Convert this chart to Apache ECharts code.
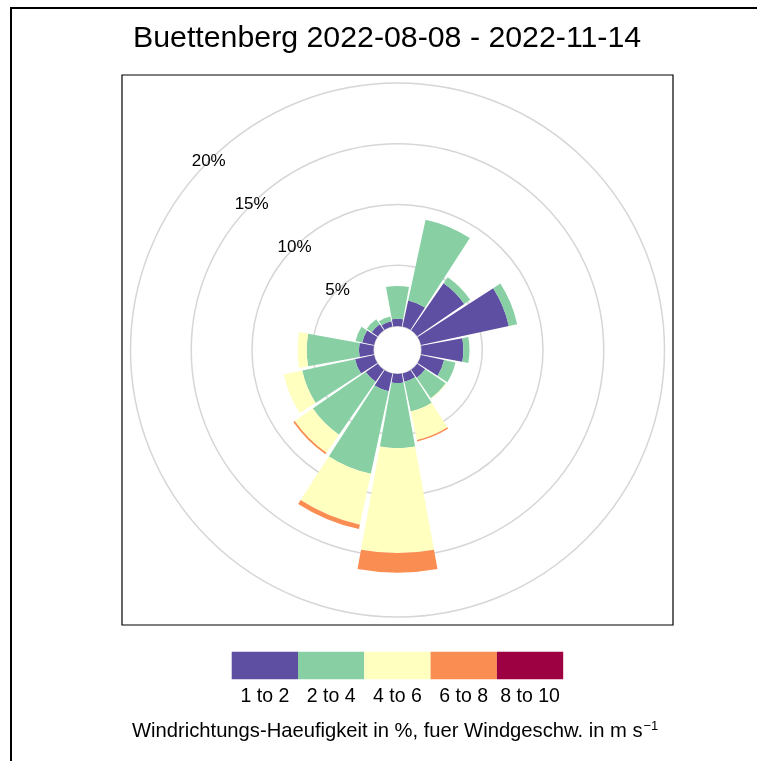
<!DOCTYPE html>
<html>
<head>
<meta charset="utf-8">
<title>Windrose Buettenberg</title>
<script src="https://cdn.jsdelivr.net/npm/echarts@6/dist/echarts.min.js"></script>
<style>
  html, body { margin: 0; padding: 0; background: #fff; }
  #main { width: 757px; height: 761px; }
</style>
</head>
<body>
<div id="main"></div>
<script>
  // 16 Richtungen, im Uhrzeigersinn ab Nord
  var richtungen = ['N', 'NNO', 'NO', 'ONO', 'O', 'OSO', 'SO', 'SSO', 'S', 'SSW', 'SW', 'WSW', 'W', 'WNW', 'NW', 'NNW'];
  var klassen = ['1 to 2', '2 to 4', '4 to 6', '6 to 8', '8 to 10'];
  var farben = ['#5E4FA2', '#88D0A4', '#FFFFBF', '#F98D52', '#9E0142'];

  // Haeufigkeit in % je Geschwindigkeitsklasse
  var ws1bis2  = [0.6, 2.2, 4.7, 7.4, 3.45, 1.95, 0.8, 0.7, 0.75, 1.5, 1.2, 1.6, 1.2, 1.0, 0.6, 0.45];
  var ws2bis4  = [2.7, 6.8, 0.6, 0.7, 0.5, 0.95, 2.05, 2.5, 5.35, 6.95, 5.3, 4.45, 4.3, 0.55, 0.5, 0.4];
  var ws4bis6  = [0, 0, 0, 0, 0, 0, 0.05, 2.4, 8.63, 4.28, 1.8, 1.55, 0.75, 0, 0, 0];
  var ws6bis8  = [0, 0, 0, 0, 0, 0, 0, 0.12, 1.62, 0.37, 0.15, 0, 0, 0, 0, 0];
  var ws8bis10 = [0, 0, 0, 0, 0, 0, 0, 0, 0, 0, 0, 0, 0, 0, 0, 0];
  var werte = [ws1bis2, ws2bis4, ws4bis6, ws6bis8, ws8bis10];

  var ringe = [5, 10, 15, 20];

  var chart = echarts.init(document.getElementById('main'));

  var serien = klassen.map(function (k, i) {
    return {
      name: k,
      type: 'bar',
      coordinateSystem: 'polar',
      stack: 'rose',
      data: werte[i],
      barCategoryGap: '8%',
      itemStyle: { color: farben[i] },
      silent: true
    };
  });

  // Prozent-Beschriftung der Ringe, Richtung NW
  serien.push({
    type: 'scatter',
    coordinateSystem: 'polar',
    symbolSize: 0,
    itemStyle: { color: '#000', opacity: 1 },
    data: ringe.map(function (r) { return [r, 'NW']; }),
    label: {
      show: true,
      position: 'inside',
      formatter: function (p) { return p.value[0] + '%'; },
      fontFamily: 'Liberation Sans',
      fontSize: 17,
      color: '#000',
      opacity: 1,
      textBorderWidth: 0
    },
    silent: true,
    z: 5
  });

  // Legende als Farbbalken
  var legX = 231.7, legW = 66.3;
  var grafik = [
    { type: 'rect', shape: { x: 11, y: 8, width: 800, height: 800 },
      style: { fill: 'none', stroke: '#000', lineWidth: 2 } },
    { type: 'rect', shape: { x: 122, y: 75, width: 551, height: 550 },
      style: { fill: 'none', stroke: '#000', lineWidth: 1.2 } }
  ];
  klassen.forEach(function (k, i) {
    grafik.push({ type: 'rect', shape: { x: legX + i * legW, y: 651.7, width: legW, height: 27.6 },
      style: { fill: farben[i] } });
    grafik.push({ type: 'text', x: legX + i * legW + legW / 2, y: 696.5,
      style: { text: k, fill: '#000', font: '19.5px "Liberation Sans"', align: 'center', verticalAlign: 'middle' } });
  });

  chart.setOption({
    animation: false,
    title: [
      {
        text: 'Buettenberg 2022-08-08 - 2022-11-14',
        left: 128, top: 19,
        textStyle: { fontFamily: 'Liberation Sans', fontSize: 30.3, fontWeight: 'normal', color: '#000' }
      },
      {
        text: 'Windrichtungs-Haeufigkeit in %, fuer Windgeschw. in m s{sup|\u22121}',
        left: 127, top: 715,
        textStyle: {
          fontFamily: 'Liberation Sans', fontSize: 20.2, fontWeight: 'normal', color: '#000',
          rich: { sup: { fontFamily: 'Liberation Sans', fontSize: 13, color: '#000', verticalAlign: 'top', padding: [0, 0, 9, 1] } }
        }
      }
    ],
    polar: {
      center: [397.5, 350],
      radius: [24, 267]
    },
    angleAxis: {
      type: 'category',
      data: richtungen,
      startAngle: 90 + 11.25,
      clockwise: true,
      axisLine: { show: false },
      axisTick: { show: false },
      axisLabel: { show: false },
      splitLine: { show: false }
    },
    radiusAxis: {
      min: 0,
      max: 20,
      interval: 5,
      axisLine: { show: false },
      axisTick: { show: false },
      axisLabel: { show: false },
      splitLine: { show: true, lineStyle: { color: '#D6D6D6', width: 1.5 } }
    },
    graphic: grafik,
    series: serien
  });
</script>
</body>
</html>
